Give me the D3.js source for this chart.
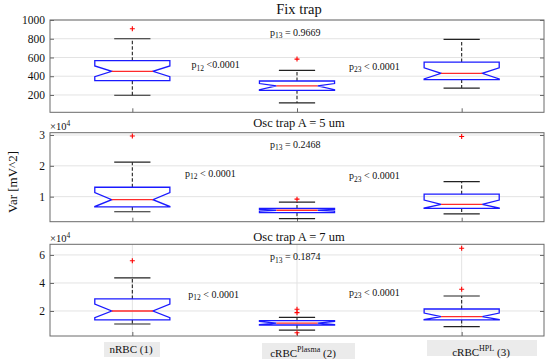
<!DOCTYPE html>
<html><head><meta charset="utf-8">
<script src="https://cdn.jsdelivr.net/npm/d3@7"></script>
<style>
body{margin:0;background:#fff}
svg{display:block}
text{font-family:"Liberation Serif","Times New Roman",serif;fill:#111}
</style></head>
<body><svg id="c" width="550" height="364"></svg>
<script>
// ---------- DATA ----------
const catBase = ["nRBC", "cRBC", "cRBC"];
const catSup = ["", "Plasma", "HPL"];
const catSuffix = [" (1)", " (2)", " (3)"];
const panelTitles = ["Fix trap", "Osc trap A = 5 um", "Osc trap A = 7 um"];

// Fix trap
const fixQ1 = [353, 250, 364];
const fixMedian = [452, 296, 431];
const fixQ3 = [566, 349, 551];
const fixNotchLo = [395, 256, 372];
const fixNotchHi = [510, 322, 490];
const fixWhiskLo = [197, 115, 274];
const fixWhiskHi = [800, 462, 793];
const fixOutliers = [[906], [583], []];
const fixTicks = [200, 400, 600, 800, 1000];
const fixPvals = ["<0.0001", "= 0.9669", "< 0.0001"];

// Osc trap A = 5 um
const osc5Q1 = [6660, 4800, 6200];
const osc5Median = [9030, 5600, 7500];
const osc5Q3 = [13050, 6200, 10800];
const osc5NotchLo = [6800, 5300, 6300];
const osc5NotchHi = [11300, 5900, 8900];
const osc5WhiskLo = [5100, 2900, 4400];
const osc5WhiskHi = [21200, 8200, 14900];
const osc5Outliers = [[29700], [9200], [29500]];
const osc5Ticks = [10000, 20000, 30000];
const osc5Pvals = ["< 0.0001", "= 0.2468", "< 0.0001"];

// Osc trap A = 7 um
const osc7Q1 = [13600, 10000, 13600];
const osc7Median = [20000, 11400, 16000];
const osc7Q3 = [28600, 13100, 21400];
const osc7NotchLo = [15200, 10300, 13800];
const osc7NotchHi = [25000, 12500, 18500];
const osc7WhiskLo = [10700, 6400, 8800];
const osc7WhiskHi = [43600, 15500, 30700];
const osc7Outliers = [[55900], [21200, 18800, 4500], [64800, 35500]];
const osc7Ticks = [20000, 40000, 60000];
const osc7Pvals = ["< 0.0001", "= 0.1874", "< 0.0001"];

// ---------- LAYOUT ----------
const SERIF = "'Liberation Serif', 'Times New Roman', serif";
const svg = d3.select("#c");
const X0 = 50, X1 = 544;
const x = d3.scaleLinear().domain([0.5, 3.5]).range([X0, X1]);

const panels = [
  {title: panelTitles[0], top: 20, bottom: 112.3, domain: [15, 1000], ticks: fixTicks, fmt: d => d, exp: false, vgrid: false,
   q1: fixQ1, med: fixMedian, q3: fixQ3, nlo: fixNotchLo, nhi: fixNotchHi, wlo: fixWhiskLo, whi: fixWhiskHi, out: fixOutliers,
   pv: fixPvals, pvPos: [[1.36, 486], [1.836, 830], [2.316, 468]], titleY: 13.5, titleSize: 14.5},
  {title: panelTitles[1], top: 132.7, bottom: 221.7, domain: [1880, 30750], ticks: osc5Ticks, fmt: d => d / 1e4, exp: true, vgrid: false,
   q1: osc5Q1, med: osc5Median, q3: osc5Q3, nlo: osc5NotchLo, nhi: osc5NotchHi, wlo: osc5WhiskLo, whi: osc5WhiskHi, out: osc5Outliers,
   pv: osc5Pvals, pvPos: [[1.32, 16460], [1.836, 25880], [2.316, 15620]], titleY: 127, titleSize: 12.5},
  {title: panelTitles[2], top: 244.3, bottom: 336, domain: [2140, 67600], ticks: osc7Ticks, fmt: d => d / 1e4, exp: true, vgrid: true,
   q1: osc7Q1, med: osc7Median, q3: osc7Q3, nlo: osc7NotchLo, nhi: osc7NotchHi, wlo: osc7WhiskLo, whi: osc7WhiskHi, out: osc7Outliers,
   pv: osc7Pvals, pvPos: [[1.34, 29500], [1.836, 56200], [2.316, 30700]], titleY: 240.5, titleSize: 12.5}
];

const pairs = [["1","2"],["1","3"],["2","3"]];
const boxHW = 0.228, notchHW = 0.125, capHW = 0.11;

panels.forEach(p => {
  const y = d3.scaleLinear().domain(p.domain).range([p.bottom, p.top]);
  const g = svg.append("g");

  // grid
  g.selectAll("line.hg").data(p.ticks).join("line")
    .attr("x1", X0).attr("x2", X1).attr("y1", d => y(d)).attr("y2", d => y(d))
    .attr("stroke", "#e3e3e3").attr("stroke-width", 1);
  if (p.vgrid) {
    g.selectAll("line.vg").data([1,2,3]).join("line")
      .attr("x1", d => x(d)).attr("x2", d => x(d)).attr("y1", p.top).attr("y2", p.bottom)
      .attr("stroke", "#e3e3e3").attr("stroke-width", 1);
  }

  // axes
  const yAxisL = d3.axisLeft(y).tickValues(p.ticks).tickFormat(p.fmt).tickSizeInner(-4).tickSizeOuter(0).tickPadding(5);
  const ga = g.append("g").attr("transform", `translate(${X0},0)`).call(yAxisL);
  ga.attr("font-family", SERIF).attr("font-size", null);
  ga.select(".domain").remove();
  ga.selectAll("line").attr("stroke", "#666");
  ga.selectAll("text").style("font-family", SERIF).style("font-size", "11.5px").attr("fill", "#222");
  const gr = g.append("g").attr("transform", `translate(${X1},0)`)
    .call(d3.axisRight(y).tickValues(p.ticks).tickFormat("").tickSizeInner(-4).tickSizeOuter(0));
  gr.select(".domain").remove();
  gr.selectAll("line").attr("stroke", "#666");
  const gb = g.append("g").attr("transform", `translate(0,${p.bottom})`)
    .call(d3.axisBottom(x).tickValues([1,2,3]).tickFormat("").tickSizeInner(-4).tickSizeOuter(0));
  gb.select(".domain").remove();
  gb.selectAll("line").attr("stroke", "#666");

  // frame
  g.append("rect").attr("x", X0).attr("y", p.top).attr("width", X1 - X0).attr("height", p.bottom - p.top)
    .attr("fill", "none").attr("stroke", "#6a6a6a").attr("stroke-width", 1);

  // title
  g.append("text").attr("x", 299).attr("y", p.titleY).attr("text-anchor", "middle")
    .style("font-size", p.titleSize + "px").text(p.title);

  // exponent label
  if (p.exp) {
    const t = g.append("text").attr("x", X0).attr("y", p.top - 2.5).style("font-size", "10.5px").attr("fill", "#333");
    t.append("tspan").text("\u00d710");
    t.append("tspan").attr("dy", -4).style("font-size", "7.5px").text("4");
  }

  const idx = [0, 1, 2];
  // whiskers (dashed)
  g.selectAll("line.wu").data(idx).join("line")
    .attr("x1", i => x(i + 1)).attr("x2", i => x(i + 1))
    .attr("y1", i => y(p.q3[i])).attr("y2", i => y(p.whi[i]))
    .attr("stroke", "#222").attr("stroke-width", 1.1).attr("stroke-dasharray", "3.5,2");
  g.selectAll("line.wl").data(idx).join("line")
    .attr("x1", i => x(i + 1)).attr("x2", i => x(i + 1))
    .attr("y1", i => y(p.q1[i])).attr("y2", i => y(p.wlo[i]))
    .attr("stroke", "#222").attr("stroke-width", 1.1).attr("stroke-dasharray", "3.5,2");
  // caps
  ["whi", "wlo"].forEach(k => {
    g.selectAll("line.cap" + k).data(idx).join("line")
      .attr("x1", i => x(i + 1 - capHW)).attr("x2", i => x(i + 1 + capHW))
      .attr("y1", i => y(p[k][i])).attr("y2", i => y(p[k][i]))
      .attr("stroke", "#222").attr("stroke-width", 1.2);
  });

  // notched boxes
  g.selectAll("path.box").data(idx).join("path")
    .attr("d", i => {
      const c = i + 1;
      const L = x(c - boxHW), R = x(c + boxHW), Li = x(c - notchHW), Ri = x(c + notchHW);
      const pts = [[L, y(p.q1[i])], [L, y(p.nlo[i])], [Li, y(p.med[i])], [L, y(p.nhi[i])], [L, y(p.q3[i])],
                   [R, y(p.q3[i])], [R, y(p.nhi[i])], [Ri, y(p.med[i])], [R, y(p.nlo[i])], [R, y(p.q1[i])]];
      return d3.line()(pts) + "Z";
    })
    .attr("fill", "none").attr("stroke", "#1a1aff").attr("stroke-width", 1.3);
  // medians
  g.selectAll("line.med").data(idx).join("line")
    .attr("x1", i => x(i + 1 - notchHW)).attr("x2", i => x(i + 1 + notchHW))
    .attr("y1", i => y(p.med[i])).attr("y2", i => y(p.med[i]))
    .attr("stroke", "#ff2a2a").attr("stroke-width", 1.3);

  // outliers
  const outs = [];
  p.out.forEach((arr, i) => arr.forEach(v => outs.push({c: i + 1, v})));
  g.selectAll("path.out").data(outs).join("path")
    .attr("d", d => { const cx = x(d.c), cy = y(d.v); return `M${cx-2.5},${cy}H${cx+2.5}M${cx},${cy-2.5}V${cy+2.5}`; })
    .attr("stroke", "#ff0000").attr("stroke-width", 1.1);

  // p-value annotations
  p.pv.forEach((txt, j) => {
    const t = g.append("text").attr("x", x(p.pvPos[j][0])).attr("y", y(p.pvPos[j][1])).style("font-size", "10px");
    t.append("tspan").text("p");
    t.append("tspan").attr("dy", 2.5).style("font-size", "7.5px").text(pairs[j].join(""));
    t.append("tspan").attr("dy", -2.5).text(" " + txt);
  });
});

// y-axis title
svg.append("text").attr("transform", "translate(17,182) rotate(-90)").attr("text-anchor", "middle")
  .style("font-size", "13px").text("Var [mV^2]");

// category labels with grey backgrounds
const labBoxes = [[104, 342, 56, 15], [262, 343, 93, 16], [427, 340, 110, 16]];
const labX = [131, 303, 481];
const labY = [353.3, 356.7, 355.7];
[0, 1, 2].forEach(i => {
  svg.append("rect").attr("x", labBoxes[i][0]).attr("y", labBoxes[i][1]).attr("width", labBoxes[i][2]).attr("height", labBoxes[i][3])
    .attr("fill", "#ebebeb");
  const t = svg.append("text").attr("x", labX[i]).attr("y", labY[i]).attr("text-anchor", "middle").style("font-size", "11px");
  t.append("tspan").text(catBase[i]);
  if (catSup[i]) {
    t.append("tspan").attr("dy", -5).style("font-size", "8px").text(catSup[i]);
    t.append("tspan").attr("dy", 5).text(catSuffix[i]);
  } else {
    t.append("tspan").text(catSuffix[i]);
  }
});
</script></body></html>
